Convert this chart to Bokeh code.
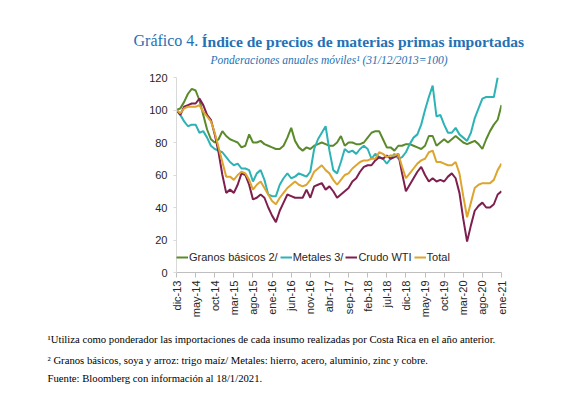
import math
from bokeh.plotting import figure
from bokeh.models import Range1d, FixedTicker, Legend, LegendItem, Title
from bokeh.embed import file_html
from bokeh.resources import INLINE

# ---- data (monthly, dic-13 .. ene-21) ----
tick_labels = ["dic-13", "may-14", "oct-14", "mar-15", "ago-15", "ene-16", "jun-16",
               "nov-16", "abr-17", "sep-17", "feb-18", "jul-18", "dic-18", "may-19",
               "oct-19", "mar-20", "ago-20", "ene-21"]
tick_step = 5

granos = [100, 101, 105, 110, 113, 112, 106, 97, 88, 82, 80, 82, 87, 84, 82, 81, 80, 77, 78, 85,
          80, 80, 81, 79, 78, 77, 76, 76, 78, 83, 89, 81, 77, 75, 77, 76, 78, 79, 80, 79,
          78, 78, 80, 84, 78, 80, 80, 79, 79, 80, 83, 86, 87, 87, 82, 77, 77, 75, 78, 78,
          79, 79, 78, 77, 76, 78, 84, 84, 78, 80, 82, 80, 82, 84, 82, 80, 79, 80, 81, 79,
          76, 82, 87, 91, 94, 103]
metales = [100, 97, 93, 90, 91, 91, 86, 87, 83, 78, 76, 75, 74, 71, 68, 66, 67, 64, 64, 63,
           56, 61, 63, 57, 48, 47, 47, 54, 58, 61, 58, 59, 61, 60, 59, 62, 76, 82, 86, 90,
           75, 63, 61, 68, 76, 74, 75, 73, 76, 78, 76, 70, 73, 71, 70, 67, 70, 73, 70, 71,
           74, 79, 83, 85, 91, 100, 108, 115, 96, 97, 91, 86, 86, 89, 85, 83, 81, 86, 95, 101,
           107, 108, 108, 108, 120]
crudo = [100, 97, 102, 103, 104, 104, 107, 103, 97, 94, 85, 74, 60, 49, 51, 49, 54, 61, 60, 54,
         45, 46, 48, 46, 40, 35, 31, 38, 43, 48, 47, 46, 46, 46, 51, 46, 53, 54, 55, 51,
         53, 50, 46, 48, 50, 52, 56, 58, 62, 65, 66, 66, 69, 71, 70, 72, 70, 71, 73, 61,
         50, 54, 58, 62, 65, 60, 56, 58, 56, 57, 56, 59, 61, 58, 49, 33, 19, 29, 38, 41,
         43, 40, 40, 42, 48, 50]
total = [100, 98, 101, 102, 102, 102, 103, 99, 96, 93, 86, 77, 68, 59, 59, 57, 60, 62, 61, 57,
         51, 54, 56, 52, 48, 44, 42, 46, 49, 52, 54, 56, 54, 53, 54, 57, 62, 64, 66, 63,
         61, 57, 54, 57, 60, 61, 64, 66, 68, 69, 69, 70, 70, 74, 73, 71, 72, 72, 73, 65,
         58, 61, 64, 67, 69, 70, 74, 75, 68, 68, 67, 66, 66, 68, 61, 47, 34, 43, 52, 54,
         55, 55, 55, 57, 63, 67]

series_names = ["Granos básicos 2/", "Metales 3/", "Crudo WTI", "Total"]
series_values = [granos, metales, crudo, total]
series_colors = ["#5A8A2B", "#2DB3B5", "#7E1F4E", "#DDA52E"]

title_a = "Gráfico 4."
title_b = "Índice de precios de materias primas importadas"
subtitle = "Ponderaciones anuales móviles¹ (31/12/2013=100)"
footnotes = ["¹Utiliza como ponderador las importaciones de cada insumo realizadas por Costa Rica en el año anterior.",
             "² Granos básicos, soya y arroz: trigo maíz/ Metales: hierro, acero, aluminio, zinc y cobre.",
             "Fuente: Bloomberg con información al 18/1/2021."]

blue = "#2471B5"
W, H = 547, 390
p = figure(width=W, height=H, output_backend="svg", toolbar_location=None,
           x_range=Range1d(0, 85), y_range=Range1d(0, 120),
           min_border_left=176, min_border_right=46, min_border_top=77, min_border_bottom=111)
p.outline_line_color = None
p.xgrid.grid_line_color = None
p.ygrid.grid_line_color = None

renderers = []
for name, vals, col in zip(series_names, series_values, series_colors):
    r = p.line(list(range(len(vals))), vals, line_color=col, line_width=2)
    renderers.append((name, r))

p.xaxis.ticker = FixedTicker(ticks=[i * tick_step for i in range(len(tick_labels))])
p.xaxis.major_label_overrides = {i * tick_step: t for i, t in enumerate(tick_labels)}
p.xaxis.major_label_orientation = math.pi / 2
p.xaxis.axis_line_color = "#BFBFBF"
p.xaxis.major_tick_line_color = "#BFBFBF"
p.xaxis.major_tick_out = 5
p.xaxis.major_tick_in = 0
p.xaxis.minor_tick_line_color = None
p.xaxis.major_label_standoff = 3
p.xaxis.major_label_text_font = "Liberation Sans"
p.xaxis.major_label_text_font_size = "11px"
p.xaxis.major_label_text_color = "#262626"

p.yaxis.ticker = FixedTicker(ticks=[0, 20, 40, 60, 80, 100, 120])
p.yaxis.axis_line_color = "#D9D9D9"
p.yaxis.major_tick_line_color = "#D9D9D9"
p.yaxis.major_tick_out = 3
p.yaxis.major_tick_in = 0
p.yaxis.minor_tick_line_color = None
p.yaxis.major_label_standoff = 6
p.yaxis.major_label_text_font = "Liberation Sans"
p.yaxis.major_label_text_font_size = "11px"
p.yaxis.major_label_text_color = "#262626"

legend = Legend(items=[LegendItem(label=n, renderers=[r]) for n, r in renderers],
                orientation="horizontal", location=(0, 9),
                glyph_width=12, glyph_height=12, label_standoff=1, spacing=2,
                padding=0, margin=0, border_line_color=None, background_fill_alpha=0,
                label_text_font="Liberation Sans", label_text_font_size="11px",
                label_text_color="#262626", label_height=12)
p.add_layout(legend, "center")

FRAME_LEFT = 176
# titles above (first added = closest to the frame)
p.add_layout(Title(text=subtitle, align="left", offset=210 - FRAME_LEFT, standoff=23,
                   text_font="Liberation Serif", text_font_size="11.5px",
                   text_font_style="italic", text_color=blue), "above")
p.add_layout(Title(text=title_b, align="left", offset=201 - FRAME_LEFT, standoff=-18,
                   text_font="Liberation Serif", text_font_size="15.5px",
                   text_font_style="bold", text_color=blue), "above")
p.add_layout(Title(text=title_a, align="left", offset=133 - FRAME_LEFT, standoff=-18,
                   text_font="Liberation Serif", text_font_size="16px",
                   text_font_style="normal", text_color=blue), "above")

# footnotes below the x axis
foot_standoffs = [21, -7, 14]
for t, s in zip(footnotes, foot_standoffs):
    p.add_layout(Title(text=t, align="left", offset=47 - FRAME_LEFT, standoff=s,
                       text_font="Liberation Serif", text_font_size="10.7px",
                       text_font_style="normal", text_color="#000000"), "below")

open("out.html", "w").write(file_html(p, INLINE))
